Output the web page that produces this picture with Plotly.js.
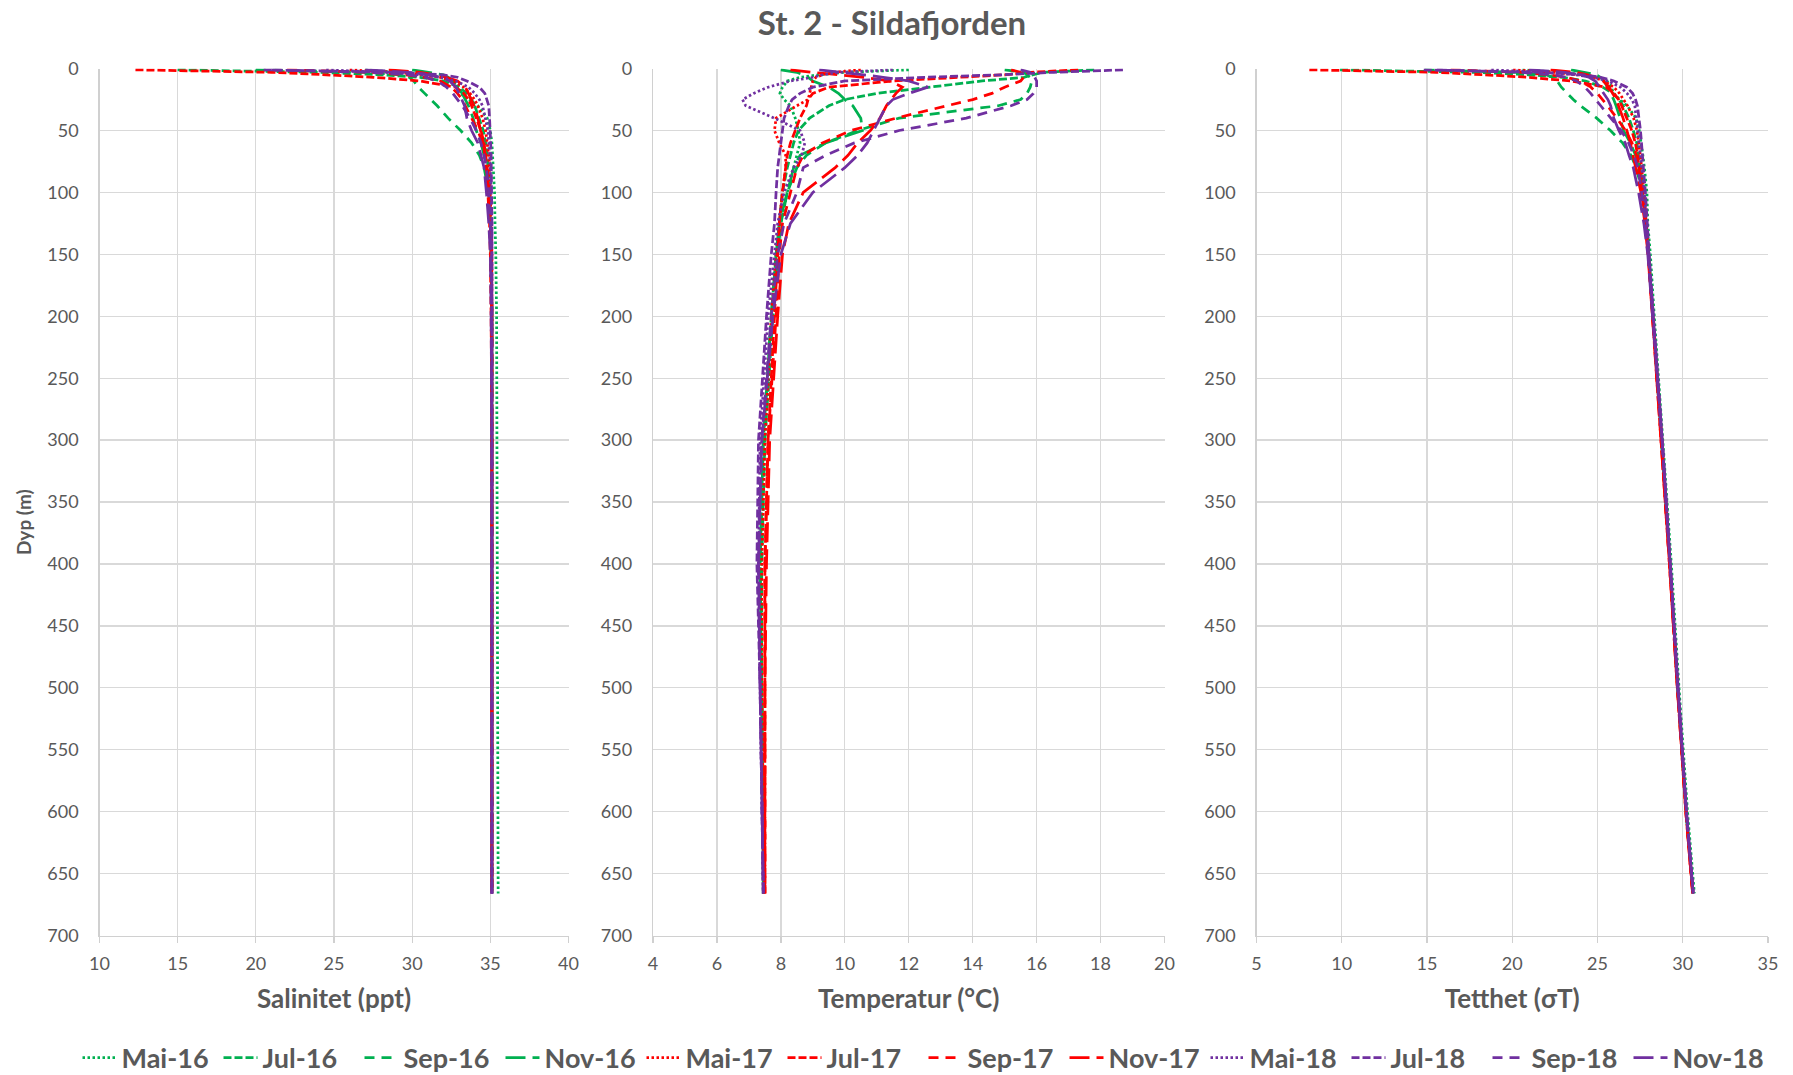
<!DOCTYPE html>
<html><head><meta charset="utf-8">
<script src="https://cdn.plot.ly/plotly-3.0.1.min.js"></script>
<style>html,body{margin:0;padding:0;background:#fff}#chart{width:1793px;height:1075px}</style>
</head><body><div id="chart"></div>
<script>
// ---------- DATA ----------
const depth = [1,2,3,5,7,10,15,20,25,30,40,50,60,70,80,100,125,150,200,300,400,500,600,666];
const seriesNames = ['Mai-16','Jul-16','Sep-16','Nov-16','Mai-17','Jul-17','Sep-17','Nov-17','Mai-18','Jul-18','Sep-18','Nov-18'];

// Salinitet (ppt)
const salMai16 = [27.0,28.0,29.5,31.0,32.0,32.7,33.0,33.1,33.6,34.2,34.8,35.0,35.1,35.15,35.2,35.27,35.3,35.35,35.4,35.42,35.45,35.47,35.5,35.5];
const salJul16 = [15.0,20.0,24.0,28.0,30.5,32.0,33.0,33.5,33.8,34.0,34.3,34.55,34.7,34.8,34.85,34.95,35.0,35.05,35.1,35.1,35.1,35.1,35.1,35.1];
const salSep16 = [20.0,24.0,27.0,29.3,29.8,30.1,30.4,30.8,31.2,31.6,32.3,33.1,33.8,34.3,34.6,34.9,35.0,35.05,35.1,35.1,35.1,35.1,35.1,35.1];
const salNov16 = [30.0,30.5,31.2,32.0,32.3,32.6,32.9,33.2,33.4,33.6,33.9,34.1,34.4,34.6,34.75,34.9,35.0,35.05,35.1,35.1,35.1,35.1,35.1,35.1];
const salMai17 = [26.0,27.5,29.0,30.8,31.8,32.6,33.3,33.7,34.0,34.2,34.5,34.7,34.8,34.9,34.95,35.0,35.05,35.1,35.1,35.1,35.1,35.1,35.1,35.1];
const salJul17 = [12.3,17.0,21.0,24.5,27.5,30.5,32.8,33.3,33.6,33.8,34.1,34.4,34.6,34.7,34.75,34.85,34.95,35.0,35.05,35.1,35.1,35.1,35.1,35.1];
const salSep17 = [22.0,25.0,27.5,29.5,30.8,31.8,32.5,32.9,33.2,33.4,33.8,34.2,34.5,34.7,34.8,34.95,35.0,35.05,35.1,35.1,35.1,35.1,35.1,35.1];
const salNov17 = [28.5,29.5,30.5,31.5,32.2,32.9,33.4,33.6,33.8,33.95,34.2,34.4,34.55,34.65,34.75,34.9,35.0,35.05,35.1,35.1,35.1,35.1,35.1,35.1];
const salMai18 = [24.5,26.5,28.3,30.5,31.8,32.8,33.6,34.0,34.3,34.5,34.7,34.85,34.9,34.95,35.0,35.05,35.1,35.1,35.1,35.1,35.1,35.1,35.1,35.1];
const salJul18 = [20.5,25.0,29.0,32.0,32.9,33.5,34.3,34.65,34.8,34.9,34.95,35.0,35.02,35.05,35.05,35.08,35.1,35.1,35.1,35.1,35.1,35.1,35.1,35.1];
const salSep18 = [21.0,24.5,27.3,29.8,30.8,31.6,32.2,32.6,32.9,33.2,33.7,34.1,34.4,34.6,34.75,34.9,35.0,35.05,35.1,35.1,35.1,35.1,35.1,35.1];
const salNov18 = [27.0,28.5,29.8,31.0,31.8,32.4,32.8,33.0,33.2,33.35,33.5,33.8,34.2,34.4,34.6,34.75,34.9,35.0,35.05,35.1,35.1,35.1,35.1,35.1];

// Temperatur (°C)
const tmpMai16 = [12.0,10.8,10.0,9.2,8.6,8.2,8.05,7.97,8.1,8.3,8.45,8.55,8.6,8.5,8.4,8.2,8.0,7.9,7.75,7.5,7.4,7.4,7.45,7.45];
const tmpJul16 = [17.8,17.0,16.2,15.9,15.6,14.3,12.7,11.0,10.0,9.5,8.9,8.55,8.4,8.3,8.2,8.05,7.95,7.85,7.7,7.45,7.35,7.4,7.45,7.45];
const tmpSep16 = [15.0,15.4,15.6,15.7,15.8,15.85,15.8,15.7,15.5,14.8,11.7,10.4,9.4,8.8,8.5,8.2,8.0,7.9,7.75,7.5,7.4,7.4,7.45,7.45];
const tmpNov16 = [8.0,8.3,8.5,8.7,8.85,9.0,9.5,9.8,10.0,10.25,10.5,10.55,9.4,8.6,8.4,8.2,7.95,7.85,7.7,7.45,7.35,7.4,7.45,7.45];
const tmpMai17 = [10.5,10.0,9.6,9.3,9.1,9.0,8.95,8.9,8.85,8.5,7.85,7.8,7.95,8.15,8.15,8.05,7.95,7.85,7.7,7.5,7.4,7.4,7.45,7.45];
const tmpJul17 = [17.3,16.5,15.8,15.0,13.5,11.5,9.5,9.0,8.85,8.8,8.6,8.45,8.3,8.2,8.15,8.05,7.95,7.9,7.8,7.6,7.5,7.5,7.5,7.5];
const tmpSep17 = [15.2,15.4,15.5,15.6,15.6,15.5,15.0,14.6,14.0,13.2,11.6,10.2,9.3,8.7,8.5,8.3,8.05,7.95,7.85,7.6,7.5,7.5,7.5,7.5];
const tmpNov17 = [8.3,8.6,9.0,9.8,10.6,11.4,11.8,11.6,11.45,11.3,11.1,10.8,10.4,10.1,9.7,8.7,8.25,8.05,7.9,7.65,7.55,7.5,7.5,7.5];
const tmpMai18 = [11.5,10.5,9.8,9.3,9.0,8.3,7.6,7.15,6.8,6.9,7.8,8.6,8.75,8.65,8.4,8.1,7.9,7.8,7.6,7.35,7.3,7.35,7.4,7.45];
const tmpJul18 = [18.7,17.5,16.5,14.9,12.5,10.0,9.0,8.6,8.35,8.25,8.1,8.05,8.0,7.95,7.9,7.85,7.8,7.7,7.55,7.3,7.25,7.35,7.4,7.45];
const tmpSep18 = [15.5,15.7,15.8,15.9,15.95,16.0,16.0,15.9,15.7,15.2,13.8,11.7,10.3,9.4,8.7,8.5,8.1,7.9,7.7,7.4,7.3,7.35,7.4,7.45];
const tmpNov18 = [9.2,9.6,10.0,10.6,11.2,12.0,12.6,12.0,11.5,11.3,11.1,10.9,10.7,10.4,10.0,9.0,8.3,8.0,7.75,7.4,7.3,7.35,7.4,7.45];

// Tetthet (sigma T)
const denMai16 = [20.6,21.56,22.8,24.1,24.95,25.55,25.82,25.93,26.3,26.74,27.26,27.45,27.57,27.66,27.75,27.9,27.95,28.1,28.33,28.85,29.33,29.78,30.28,30.68];
const denJul16 = [9.9,14.6,17.8,20.95,22.95,24.3,25.3,25.9,26.25,26.5,26.85,27.1,27.3,27.4,27.5,27.7,27.85,28.0,28.25,28.78,29.25,29.7,30.2,30.6];
const denSep16 = [14.86,17.9,20.2,21.98,22.35,22.63,22.88,23.23,23.58,24.0,24.95,25.76,26.47,26.96,27.28,27.63,27.85,28.0,28.25,28.78,29.25,29.7,30.2,30.6];
const denNov16 = [23.45,23.8,24.32,24.92,25.16,25.39,25.58,25.79,25.95,26.09,26.33,26.52,26.93,27.23,27.4,27.63,27.85,28.0,28.25,28.78,29.25,29.7,30.2,30.6];
const denMai17 = [20.05,21.27,22.49,23.93,24.75,25.39,25.96,26.29,26.55,26.76,27.12,27.31,27.42,27.51,27.59,27.72,27.85,28.0,28.25,28.78,29.25,29.7,30.2,30.6];
const denJul17 = [8.1,12.36,15.54,18.37,20.88,23.46,25.5,25.97,26.24,26.42,26.72,27.01,27.22,27.35,27.43,27.6,27.8,27.98,28.23,28.75,29.22,29.68,30.18,30.58];
const denSep17 = [16.39,18.69,20.61,22.17,23.19,23.99,24.61,24.99,25.31,25.59,26.13,26.65,27.02,27.29,27.43,27.65,27.82,27.98,28.23,28.75,29.22,29.68,30.18,30.58];
const denNov17 = [22.25,22.99,23.72,24.41,24.88,25.33,25.69,25.89,26.09,26.23,26.5,26.72,26.93,27.08,27.25,27.55,27.78,27.96,28.22,28.74,29.22,29.68,30.18,30.58];
const denMai18 = [18.77,20.44,21.91,23.7,24.76,25.62,26.35,26.73,27.02,27.19,27.27,27.34,27.4,27.49,27.6,27.75,27.88,28.02,28.27,28.8,29.27,29.72,30.22,30.62];
const denJul18 = [14.81,18.44,21.66,24.19,25.19,25.96,26.72,27.06,27.23,27.34,27.44,27.52,27.58,27.65,27.69,27.81,27.9,28.03,28.28,28.8,29.27,29.72,30.22,30.62];
const denSep18 = [15.58,18.27,20.42,22.37,23.15,23.77,24.26,24.6,24.88,25.19,25.78,26.39,26.82,27.13,27.37,27.59,27.82,27.99,28.26,28.79,29.26,29.71,30.21,30.61];
const denNov18 = [20.99,22.1,23.06,23.94,24.5,24.87,25.13,25.38,25.61,25.77,25.95,26.25,26.63,26.85,27.1,27.41,27.72,27.95,28.24,28.78,29.26,29.71,30.21,30.61];

// ---------- BUILD ----------
const salinity = [salMai16,salJul16,salSep16,salNov16,salMai17,salJul17,salSep17,salNov17,salMai18,salJul18,salSep18,salNov18];
const temperature = [tmpMai16,tmpJul16,tmpSep16,tmpNov16,tmpMai17,tmpJul17,tmpSep17,tmpNov17,tmpMai18,tmpJul18,tmpSep18,tmpNov18];
const density = [denMai16,denJul16,denSep16,denNov16,denMai17,denJul17,denSep17,denNov17,denMai18,denJul18,denSep18,denNov18];

const yearColors = ['#00B050','#FF0000','#7030A0'];
const monthDash = ['2.5px,2.5px','8px,3px','10px,7px','20px,7px'];

const panels = [salinity, temperature, density];
const traces = [];
panels.forEach((vals, p) => {
  seriesNames.forEach((name, i) => {
    traces.push({
      type: 'scatter', mode: 'lines',
      x: vals[i], y: depth,
      xaxis: p === 0 ? 'x' : 'x' + (p + 1),
      yaxis: p === 0 ? 'y' : 'y' + (p + 1),
      name: name, legendgroup: name, showlegend: p === 0,
      line: {color: yearColors[Math.floor(i / 4)], width: 2.75, dash: monthDash[i % 4]},
      hoverinfo: 'skip'
    });
  });
});

const W = 1793, H = 1075;
const fx = px => px / W;
const fy = py => 1 - py / H;
const yDom = [fy(935.5), fy(68.6)];
const grid = '#D9D9D9';
const txt = '#595959';

function xAx(range, title, dom, anchor) {
  return {
    domain: dom, range: range, dtick: range[1] > 30 ? 5 : 2, tick0: range[0], anchor: anchor,
    showgrid: true, gridcolor: grid, gridwidth: 1.3, zeroline: false,
    showline: true, linecolor: '#D0D0D0', linewidth: 1.3,
    ticks: 'outside', ticklen: 6, tickcolor: '#D0D0D0', tickwidth: 1.3,
    tickfont: {size: 18, color: txt}, ticklabelstandoff: 6,
    title: {text: title, font: {size: 26, weight: 'bold', color: txt}, standoff: 16},
    automargin: false, fixedrange: true
  };
}
function yAx(anchor) {
  return {
    domain: yDom, range: [700, 0], dtick: 50, tick0: 0, anchor: anchor,
    showgrid: true, gridcolor: grid, gridwidth: 1.3, zeroline: false,
    showline: true, linecolor: '#D0D0D0', linewidth: 1.3, ticks: '',
    tickfont: {size: 18, color: txt}, ticklabelstandoff: 16,
    automargin: false, fixedrange: true
  };
}

const layout = {
  width: W, height: H,
  margin: {l: 0, r: 0, t: 0, b: 0, autoexpand: false},
  paper_bgcolor: '#ffffff', plot_bgcolor: '#ffffff',
  font: {family: 'Lato, "Open Sans", sans-serif', color: txt, size: 18},
  title: {text: 'St. 2 - Sildafjorden', x: fx(892), xanchor: 'center', y: fy(23), yanchor: 'middle',
          font: {size: 33, weight: 'bold', color: txt}},
  showlegend: true,
  legend: {orientation: 'h', x: fx(77.5), xanchor: 'left', y: fy(1058), yanchor: 'middle',
           font: {size: 27, weight: 'bold', color: txt}, itemwidth: 34, entrywidth: 92, entrywidthmode: 'pixels',
           traceorder: 'normal', bgcolor: 'rgba(0,0,0,0)'},
  xaxis:  xAx([10, 40], 'Salinitet (ppt)', [fx(99.5), fx(568.5)], 'y'),
  xaxis2: xAx([4, 20], 'Temperatur (°C)', [fx(653), fx(1164.5)], 'y2'),
  xaxis3: xAx([5, 35], 'Tetthet (σT)', [fx(1256.5), fx(1768)], 'y3'),
  yaxis:  yAx('x'),
  yaxis2: yAx('x2'),
  yaxis3: yAx('x3'),
  annotations: [{
    text: 'Dyp (m)', textangle: -90, xref: 'paper', yref: 'paper',
    x: fx(23), y: fy(522), xanchor: 'center', yanchor: 'middle', showarrow: false,
    font: {size: 19, weight: 'bold', color: txt}
  }]
};

Plotly.newPlot('chart', traces, layout, {staticPlot: true, displayModeBar: false});
</script>
</body></html>
